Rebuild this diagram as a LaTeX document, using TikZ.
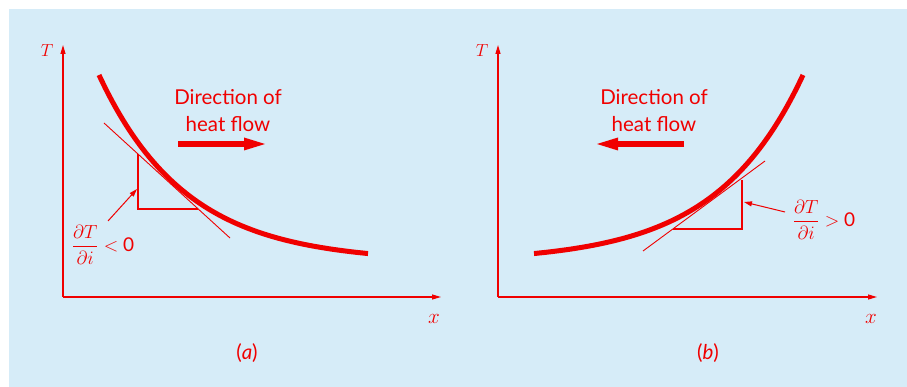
\RequirePackage{fix-cm}
\documentclass[tikz,border=0pt]{standalone}
\usepackage{amsmath}
\usepackage{fontspec}
\setmainfont{Lato}
\usetikzlibrary{arrows.meta}
\definecolor{heatred}{RGB}{240,0,0}
\definecolor{paleblue}{RGB}{214,236,248}

\begin{document}
\begin{tikzpicture}[x=1pt,y=-1pt,
    axis/.style={draw=heatred,line width=1.2pt,-{Triangle[length=9pt,width=5pt]}},
    curve/.style={draw=heatred,line width=5pt},
    tangent/.style={draw=heatred,line width=0.9pt},
    slope/.style={draw=heatred,line width=1.1pt},
    pointer/.style={draw=heatred,line width=1pt,-{Triangle[length=8pt,width=5pt]}},
    flow/.style={draw=heatred,line width=6pt,-{Triangle[length=21pt,width=13pt,line width=0pt]}},
    lbl/.style={text=heatred,font=\fontsize{20.5}{27}\selectfont,align=center},
    mathlbl/.style={text=heatred,font=\fontsize{17.5}{21}\selectfont},
    xlbl/.style={text=heatred,font=\fontsize{21}{24}\selectfont},
    fraclbl/.style={text=heatred,font=\fontsize{19}{23}\selectfont}]
    \useasboundingbox (0,0) rectangle (907,387);
    \fill[paleblue] (9,9) rectangle (907,387);

    % (a): T falls with x, heat flows to the right
    \coordinate (Oa) at (63,297);
    \coordinate (Ya) at (63,45);
    \coordinate (Xa) at (441,297);
    \draw[axis] (Oa) -- (Ya);
    \draw[axis] (Oa) -- (Xa);
    \node[mathlbl] (Ta) at (47,51) {$T$};
    \node[xlbl] (xa) at (434,319) {$x$};
    \draw[curve] plot[domain=99:368,samples=60,smooth] (\x,{262-187*exp(-0.0115*(\x-99))});
    \coordinate (ta1) at (104,123);
    \coordinate (ta2) at (230,238);
    \draw[tangent] (ta1) -- (ta2);
    \coordinate (sa1) at (138,154);
    \coordinate (sa2) at (138,209);
    \coordinate (sa3) at (198,209);
    \draw[slope] (sa1) -- (sa2) -- (sa3);
    \node[fraclbl] (da) at (103,245) {$\dfrac{\partial T}{\partial i} <$ 0};
    \coordinate (pa1) at (108,221);
    \coordinate (pa2) at (137,189);
    \draw[pointer] (pa1) -- (pa2);
    \node[lbl] (dira) at (228,111) {Direction of\\heat flow};
    \coordinate (fa1) at (178,144);
    \coordinate (fa2) at (265,144);
    \draw[flow] (fa1) -- (fa2);
    \node[lbl] (capa) at (247,353) {(\textit{a})};

    % (b): T rises with x, heat flows to the left
    \coordinate (Ob) at (498,297);
    \coordinate (Yb) at (498,45);
    \coordinate (Xb) at (877,297);
    \draw[axis] (Ob) -- (Yb);
    \draw[axis] (Ob) -- (Xb);
    \node[mathlbl] (Tb) at (482,51) {$T$};
    \node[xlbl] (xb) at (871,319) {$x$};
    \draw[curve] plot[domain=534:803,samples=60,smooth] (\x,{262-187*exp(-0.0115*(803-\x))});
    \coordinate (tb1) at (643,251);
    \coordinate (tb2) at (765,161);
    \draw[tangent] (tb1) -- (tb2);
    \coordinate (sb1) at (742,180);
    \coordinate (sb2) at (742,229);
    \coordinate (sb3) at (673,229);
    \draw[slope] (sb1) -- (sb2) -- (sb3);
    \node[fraclbl] (db) at (824,220) {$\dfrac{\partial T}{\partial i} >$ 0};
    \coordinate (pb1) at (785,212);
    \coordinate (pb2) at (744,202);
    \draw[pointer] (pb1) -- (pb2);
    \node[lbl] (dirb) at (654,111) {Direction of\\heat flow};
    \coordinate (fb1) at (684,144);
    \coordinate (fb2) at (597,144);
    \draw[flow] (fb1) -- (fb2);
    \node[lbl] (capb) at (708,353) {(\textit{b})};
\end{tikzpicture}
\end{document}
